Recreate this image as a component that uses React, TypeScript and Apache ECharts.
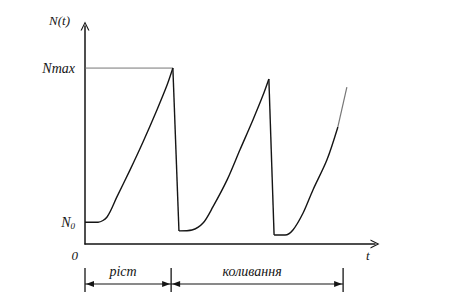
import React, { useEffect, useRef } from "react";
import * as echarts from "echarts";

// ---- data (arbitrary units: time t 0..100, population N 0..100) ----
const N0 = 10;
const NMAX = 80.7;

const rise1T = [0, 4.5, 7.6, 11.0, 15.5, 20.0, 24.8, 28.3, 30.3];
const rise1N = [10, 10, 12.4, 21.6, 33.9, 46.8, 61.5, 72.9, 80.7];

const drop1T = [30.3, 32.4];
const drop1N = [80.7, 6.0];

const rise2T = [32.4, 36.9, 40.7, 44.1, 49.0, 53.4, 57.9, 61.4, 63.4];
const rise2N = [6.0, 6.4, 9.6, 17.0, 29.4, 43.1, 56.9, 68.3, 75.7];

const drop2T = [63.4, 65.2];
const drop2N = [75.7, 4.1];

const rise3T = [65.2, 69.0, 71.7, 75.2, 78.6, 83.4, 87.2];
const rise3N = [4.1, 4.1, 6.4, 14.2, 24.8, 38.5, 53.7];

const tailT = [87.2, 90.3];
const tailN = [53.7, 72.0];

const nmaxLineT = [0, 30.3];
const nmaxLineN = [NMAX, NMAX];

const yTickValues = [N0, NMAX];
const xTickValues = [0];

const phaseBounds = [0, 29.7, 89];
const phaseLabels = ["ріст", "коливання"];

// ---------------------------------------------------------------------
const FONT = "'Liberation Serif', 'Times New Roman', serif";
const INK = "#151515";
const CHEVRON = "path://M0,10 L5,0 L10,10 L8.6,10 L5,2.6 L1.4,10 Z";

const pairs = (t: number[], n: number[]) => t.map((v, i) => [v, n[i]]);

export default function App() {
  const ref = useRef<HTMLDivElement>(null);

  useEffect(() => {
    document.body.style.margin = "0";
    const chart = echarts.init(ref.current!, null, { renderer: "svg" });

    const curve = (name: string, t: number[], n: number[], smooth: number | boolean, color = INK, width = 1.4) => ({
      name,
      type: "line",
      data: pairs(t, n),
      smooth,
      symbol: "none",
      lineStyle: { color, width },
      z: 3,
    });

    const option: any = {
      animation: false,
      backgroundColor: "#ffffff",
      grid: { left: 85, right: 81, top: 26, bottom: 64, outerBoundsMode: "none" },
      xAxis: {
        type: "value",
        min: 0,
        max: 100,
        name: "t",
        nameLocation: "end",
        nameGap: -9,
        nameTextStyle: {
          fontFamily: FONT,
          fontStyle: "italic",
          fontSize: 13,
          color: INK,
          align: "left",
          verticalAlign: "top",
          padding: [5, 0, 0, 0],
        },
        axisLine: {
          symbol: ["none", CHEVRON],
          symbolSize: [10, 9],
          lineStyle: { color: INK, width: 1.5 },
        },
        axisTick: { show: false },
        splitLine: { show: false },
        axisLabel: {
          customValues: xTickValues,
          formatter: () => "0",
          fontFamily: FONT,
          fontStyle: "italic",
          fontSize: 13,
          color: INK,
          margin: 5,
          align: "right",
          padding: [0, 7, 0, 0],
        },
      },
      yAxis: {
        type: "value",
        min: 0,
        max: 100,
        name: "N(t)",
        nameLocation: "end",
        nameGap: 6,
        nameTextStyle: {
          fontFamily: FONT,
          fontStyle: "italic",
          fontSize: 13,
          color: INK,
          align: "right",
          verticalAlign: "middle",
          padding: [0, 15, 0, 0],
        },
        axisLine: {
          symbol: ["none", CHEVRON],
          symbolSize: [10, 9],
          lineStyle: { color: INK, width: 1.5 },
        },
        axisTick: { show: false },
        splitLine: { show: false },
        axisLabel: {
          customValues: yTickValues,
          margin: 10,
          formatter: (v: number) => (Math.abs(v - N0) < 0.01 ? "{i|N}{s|0}" : "{i|Nmax}"),
          rich: {
            i: { fontFamily: FONT, fontStyle: "italic", fontSize: 14, color: INK, lineHeight: 16 },
            s: { fontFamily: FONT, fontStyle: "italic", fontSize: 9, color: INK, lineHeight: 10, verticalAlign: "bottom" },
          },
        },
      },
      series: [
        curve("Nmax", nmaxLineT, nmaxLineN, false, "#666", 0.9),
        curve("rise1", rise1T, rise1N, 0.3),
        curve("drop1", drop1T, drop1N, false),
        curve("rise2", rise2T, rise2N, 0.3),
        curve("drop2", drop2T, drop2N, false),
        curve("rise3", rise3T, rise3N, 0.3),
        curve("tail", tailT, tailN, false, "#777", 1.2),
      ],
    };

    chart.setOption(option);

    // phase brackets below the time axis, positioned via the axis scale
    const px = phaseBounds.map((t) => chart.convertToPixel({ gridIndex: 0 }, [t, 0]) as number[]);
    const y0 = px[0][1];
    const tickTop = y0 + 24;
    const tickBot = y0 + 48;
    const arrowY = y0 + 40;
    const textY = y0 + 27;
    const head = 8;
    const graphic: any[] = [];
    px.forEach((p) => {
      graphic.push({
        type: "line",
        shape: { x1: p[0], y1: tickTop, x2: p[0], y2: tickBot },
        style: { stroke: INK, lineWidth: 1.3 },
      });
    });
    for (let i = 0; i < px.length - 1; i++) {
      const a = px[i][0];
      const b = px[i + 1][0];
      graphic.push({
        type: "line",
        shape: { x1: a, y1: arrowY, x2: b, y2: arrowY },
        style: { stroke: INK, lineWidth: 1.2 },
      });
      graphic.push({
        type: "polygon",
        shape: { points: [[a + 1, arrowY], [a + 1 + head, arrowY - 3], [a + 1 + head, arrowY + 3]] },
        style: { fill: INK },
      });
      graphic.push({
        type: "polygon",
        shape: { points: [[b - 1, arrowY], [b - 1 - head, arrowY - 3], [b - 1 - head, arrowY + 3]] },
        style: { fill: INK },
      });
      graphic.push({
        type: "text",
        x: (a + b) / 2 - 5,
        y: textY,
        style: {
          text: phaseLabels[i],
          fontFamily: FONT,
          fontStyle: "italic",
          fontSize: 14,
          fill: INK,
          align: "center",
          verticalAlign: "middle",
        },
      });
    }
    chart.setOption({ graphic });

    return () => chart.dispose();
  }, []);

  return (
    <div
      ref={ref}
      style={{ position: "fixed", left: 0, top: 0, width: 456, height: 308, background: "#fff" }}
    />
  );
}
